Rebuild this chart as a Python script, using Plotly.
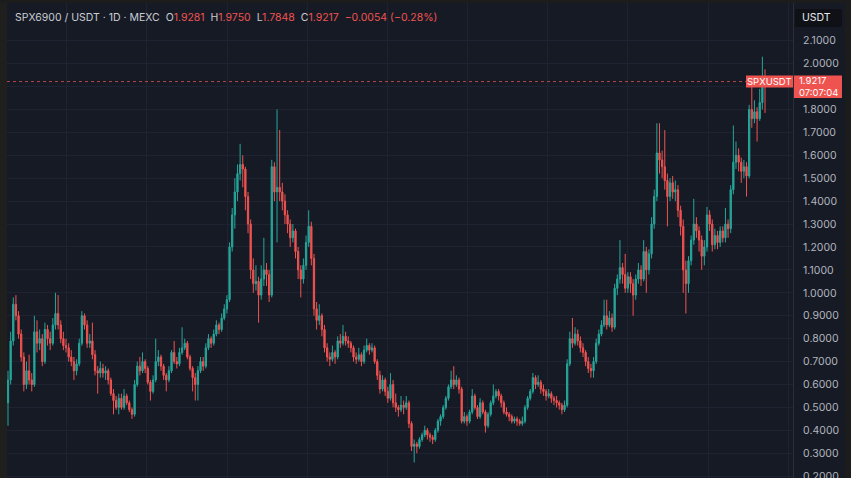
import plotly.graph_objects as go

# ---------------- data (daily candles) ----------------
opens = [
    0.52,0.62,0.79,0.95,0.90,0.82,0.72,0.60,0.66,0.62,
    0.60,0.83,0.78,0.80,0.70,0.84,0.80,0.78,0.86,0.91,
    0.86,0.80,0.77,0.76,0.72,0.70,0.66,0.69,0.78,0.90,
    0.86,0.78,0.79,0.73,0.66,0.65,0.67,0.65,0.66,0.62,
    0.56,0.53,0.50,0.54,0.50,0.55,0.52,0.49,0.47,0.60,
    0.68,0.66,0.70,0.67,0.61,0.57,0.62,0.70,0.72,0.68,
    0.64,0.62,0.66,0.74,0.70,0.69,0.74,0.76,0.78,0.72,
    0.67,0.63,0.60,0.66,0.70,0.68,0.76,0.80,0.78,0.82,
    0.86,0.84,0.89,0.93,0.97,1.20,1.34,1.44,1.52,1.56,
    1.54,1.42,1.30,1.10,1.04,1.05,0.99,1.06,1.10,1.08,
    0.99,1.55,1.44,1.46,1.44,1.40,1.34,1.30,1.24,1.27,
    1.18,1.10,1.06,1.12,1.22,1.29,1.15,0.93,0.88,0.90,
    0.84,0.76,0.72,0.71,0.74,0.72,0.79,0.78,0.81,0.79,
    0.78,0.76,0.72,0.71,0.73,0.70,0.75,0.77,0.75,0.76,
    0.70,0.64,0.58,0.62,0.57,0.54,0.60,0.52,0.50,0.49,
    0.51,0.50,0.52,0.43,0.33,0.34,0.33,0.36,0.38,0.40,
    0.38,0.37,0.36,0.40,0.44,0.46,0.50,0.54,0.59,0.62,
    0.60,0.62,0.58,0.44,0.46,0.44,0.48,0.55,0.50,0.46,
    0.52,0.48,0.42,0.47,0.52,0.55,0.57,0.55,0.52,0.48,
    0.47,0.46,0.44,0.45,0.44,0.43,0.44,0.50,0.54,0.57,
    0.63,0.60,0.61,0.58,0.57,0.55,0.56,0.54,0.53,0.52,
    0.51,0.49,0.51,0.69,0.80,0.78,0.82,0.79,0.76,0.74,
    0.70,0.67,0.66,0.70,0.78,0.82,0.86,0.90,0.86,0.89,
    0.85,1.02,1.06,1.11,1.08,1.02,1.07,1.04,0.99,1.06,
    1.10,1.06,1.18,1.10,1.17,1.30,1.42,1.61,1.58,1.55,
    1.49,1.42,1.48,1.44,1.45,1.36,1.29,1.10,1.04,1.14,
    1.23,1.30,1.27,1.23,1.16,1.20,1.34,1.30,1.21,1.25,
    1.22,1.27,1.24,1.30,1.28,1.45,1.57,1.60,1.57,1.53,
    1.55,1.51,1.80,1.76,1.79,1.76,1.83,1.9281,
]
highs = [
    0.66,0.83,0.98,0.99,0.92,0.84,0.74,0.70,0.73,0.65,
    0.90,0.88,0.84,0.82,0.87,0.86,0.83,0.89,1.00,0.99,
    0.88,0.83,0.80,0.78,0.75,0.72,0.71,0.80,0.92,0.91,
    0.88,0.82,0.87,0.75,0.68,0.70,0.69,0.68,0.67,0.63,
    0.58,0.55,0.56,0.56,0.58,0.56,0.53,0.50,0.62,0.70,
    0.72,0.74,0.71,0.68,0.62,0.64,0.80,0.75,0.73,0.69,
    0.65,0.68,0.75,0.79,0.72,0.76,0.85,0.80,0.79,0.73,
    0.68,0.65,0.68,0.72,0.72,0.78,0.82,0.81,0.84,0.88,
    0.87,0.91,0.95,0.99,1.22,1.37,1.50,1.56,1.65,1.60,
    1.55,1.44,1.32,1.15,1.12,1.07,1.12,1.24,1.13,1.10,
    1.58,1.57,1.80,1.71,1.48,1.43,1.36,1.32,1.30,1.28,
    1.20,1.12,1.15,1.25,1.36,1.31,1.17,0.96,0.95,0.91,
    0.86,0.78,0.74,0.77,0.75,0.81,0.82,0.86,0.83,0.81,
    0.79,0.77,0.74,0.76,0.74,0.77,0.80,0.78,0.78,0.77,
    0.71,0.66,0.64,0.63,0.59,0.65,0.62,0.56,0.51,0.55,
    0.53,0.55,0.53,0.44,0.36,0.35,0.37,0.39,0.42,0.41,
    0.39,0.38,0.41,0.45,0.47,0.51,0.55,0.60,0.66,0.68,
    0.64,0.63,0.59,0.48,0.47,0.49,0.58,0.56,0.51,0.54,
    0.53,0.49,0.48,0.53,0.60,0.58,0.58,0.56,0.53,0.50,
    0.48,0.47,0.46,0.46,0.45,0.46,0.51,0.55,0.58,0.65,
    0.64,0.64,0.62,0.60,0.58,0.58,0.57,0.55,0.55,0.53,
    0.52,0.53,0.71,0.83,0.89,0.85,0.84,0.81,0.78,0.75,
    0.72,0.69,0.72,0.80,0.84,0.88,0.97,0.97,0.92,0.91,
    1.04,1.08,1.23,1.13,1.17,1.09,1.09,1.06,1.08,1.13,
    1.12,1.23,1.20,1.19,1.33,1.45,1.74,1.74,1.62,1.71,
    1.52,1.50,1.51,1.49,1.47,1.38,1.32,1.14,1.16,1.25,
    1.41,1.33,1.29,1.25,1.23,1.375,1.36,1.32,1.28,1.27,
    1.29,1.29,1.37,1.32,1.47,1.73,1.66,1.63,1.59,1.58,
    1.57,1.82,1.915,1.84,1.81,1.89,2.03,1.9750,
]
lows = [
    0.42,0.60,0.77,0.88,0.80,0.70,0.57,0.58,0.60,0.57,
    0.59,0.74,0.75,0.68,0.69,0.77,0.75,0.77,0.84,0.84,
    0.78,0.75,0.74,0.70,0.68,0.62,0.64,0.68,0.77,0.84,
    0.76,0.76,0.71,0.64,0.56,0.63,0.63,0.62,0.60,0.55,
    0.47,0.49,0.47,0.49,0.49,0.51,0.48,0.45,0.46,0.59,
    0.64,0.65,0.65,0.60,0.53,0.56,0.61,0.68,0.66,0.62,
    0.57,0.61,0.65,0.69,0.67,0.68,0.73,0.75,0.71,0.66,
    0.57,0.53,0.53,0.65,0.66,0.67,0.75,0.76,0.77,0.81,
    0.82,0.83,0.88,0.91,0.96,1.18,1.28,1.40,1.49,1.46,
    1.36,1.26,1.06,1.00,1.01,0.87,0.97,1.03,1.03,0.96,
    0.98,1.40,1.22,1.40,1.36,1.30,1.26,1.20,1.22,1.15,
    1.06,0.98,1.04,1.10,1.20,1.12,0.90,0.84,0.86,0.81,
    0.74,0.70,0.68,0.70,0.69,0.71,0.76,0.77,0.77,0.76,
    0.74,0.70,0.69,0.70,0.68,0.69,0.74,0.73,0.74,0.69,
    0.62,0.56,0.57,0.55,0.52,0.53,0.50,0.48,0.46,0.48,
    0.47,0.49,0.41,0.31,0.26,0.30,0.32,0.35,0.37,0.36,
    0.35,0.34,0.35,0.39,0.42,0.45,0.49,0.53,0.58,0.58,
    0.59,0.56,0.43,0.43,0.42,0.43,0.47,0.49,0.45,0.45,
    0.47,0.39,0.41,0.46,0.51,0.54,0.53,0.50,0.47,0.46,
    0.44,0.43,0.43,0.42,0.42,0.42,0.43,0.49,0.53,0.56,
    0.58,0.59,0.56,0.55,0.53,0.54,0.52,0.51,0.50,0.49,
    0.47,0.48,0.50,0.68,0.76,0.77,0.77,0.74,0.72,0.68,
    0.65,0.63,0.63,0.69,0.77,0.81,0.85,0.84,0.85,0.83,
    0.84,0.99,1.04,1.04,1.00,1.00,1.00,0.90,0.97,1.04,
    1.03,1.05,1.00,1.08,1.15,1.28,1.40,1.52,1.50,1.45,
    1.29,1.40,1.41,1.40,1.33,1.25,1.00,0.91,1.00,1.12,
    1.21,1.24,1.18,1.10,1.12,1.18,1.27,1.18,1.19,1.19,
    1.20,1.22,1.22,1.24,1.26,1.43,1.54,1.53,1.48,1.50,
    1.42,1.50,1.72,1.74,1.66,1.75,1.80,1.7848,
]
closes = [
    0.62,0.79,0.95,0.90,0.82,0.72,0.60,0.66,0.62,0.60,
    0.83,0.78,0.80,0.70,0.84,0.80,0.78,0.86,0.91,0.86,
    0.80,0.77,0.76,0.72,0.70,0.66,0.69,0.78,0.90,0.86,
    0.78,0.79,0.73,0.66,0.65,0.67,0.65,0.66,0.62,0.56,
    0.53,0.50,0.54,0.50,0.55,0.52,0.49,0.47,0.60,0.68,
    0.66,0.70,0.67,0.61,0.57,0.62,0.70,0.72,0.68,0.64,
    0.62,0.66,0.74,0.70,0.69,0.74,0.76,0.78,0.72,0.67,
    0.63,0.60,0.66,0.70,0.68,0.76,0.80,0.78,0.82,0.86,
    0.84,0.89,0.93,0.97,1.20,1.34,1.44,1.52,1.56,1.54,
    1.42,1.30,1.10,1.04,1.05,0.99,1.06,1.10,1.08,0.99,
    1.55,1.44,1.46,1.44,1.40,1.34,1.30,1.24,1.27,1.18,
    1.10,1.06,1.12,1.22,1.29,1.15,0.93,0.88,0.90,0.84,
    0.76,0.72,0.71,0.74,0.72,0.79,0.78,0.81,0.79,0.78,
    0.76,0.72,0.71,0.73,0.70,0.75,0.77,0.75,0.76,0.70,
    0.64,0.58,0.62,0.57,0.54,0.60,0.52,0.50,0.49,0.51,
    0.50,0.52,0.43,0.33,0.34,0.33,0.36,0.38,0.40,0.38,
    0.37,0.36,0.40,0.44,0.46,0.50,0.54,0.59,0.62,0.60,
    0.62,0.58,0.44,0.46,0.44,0.48,0.55,0.50,0.46,0.52,
    0.48,0.42,0.47,0.52,0.55,0.57,0.55,0.52,0.48,0.47,
    0.46,0.44,0.45,0.44,0.43,0.44,0.50,0.54,0.57,0.63,
    0.60,0.61,0.58,0.57,0.55,0.56,0.54,0.53,0.52,0.51,
    0.49,0.51,0.69,0.80,0.78,0.82,0.79,0.76,0.74,0.70,
    0.67,0.66,0.70,0.78,0.82,0.86,0.90,0.86,0.89,0.85,
    1.02,1.06,1.11,1.08,1.02,1.07,1.04,0.99,1.06,1.10,
    1.06,1.18,1.10,1.17,1.30,1.42,1.61,1.58,1.55,1.49,
    1.42,1.48,1.44,1.45,1.36,1.29,1.10,1.04,1.14,1.23,
    1.30,1.27,1.23,1.16,1.20,1.34,1.30,1.21,1.25,1.22,
    1.27,1.24,1.30,1.28,1.45,1.57,1.60,1.57,1.53,1.55,
    1.51,1.80,1.76,1.79,1.76,1.83,1.9271,1.9217,
]
price_ticks = [round(0.2 + 0.1 * k, 1) for k in range(20)]
symbol_text = "SPX6900 / USDT · 1D · MEXC"
ticker_label = "SPXUSDT"
quote_label = "USDT"
countdown_label = "07:07:04"

assert len(opens) == len(highs) == len(lows) == len(closes)
N = len(closes)
bars = list(range(N))

# ---------------- style ----------------
BG = "#161a25"
GRID = "#1f2331"
UP = "#26a69a"
DOWN = "#ef5350"
TXT = "#b2b5be"
W, H = 851, 478
PL, PR, PT, PB = 7, 793, 3, 478          # plot area in pixels
FIRST_PX, LAST_PX = 8, 765                # centre of first / last candle
px_per_bar = (LAST_PX - FIRST_PX) / (N - 1)
x0 = (PL - FIRST_PX) / px_per_bar
x1 = (N - 1) + (PR - LAST_PX) / px_per_bar
PX_PER_UNIT = 229.2                       # pixels per 1.0 of price
Y_REF_PX, Y_REF_P = 40.7, 2.1
y_top = Y_REF_P + (Y_REF_PX - PT) / PX_PER_UNIT
y_bot = Y_REF_P - (PB - Y_REF_PX) / PX_PER_UNIT

def fx(px):   # pixel x -> paper
    return (px - PL) / (PR - PL)

def fy(py):   # pixel y -> paper
    return (PB - py) / (PB - PT)

fig = go.Figure(go.Candlestick(
    x=bars, open=opens, high=highs, low=lows, close=closes,
    increasing=dict(line=dict(color=UP, width=1), fillcolor=UP),
    decreasing=dict(line=dict(color=DOWN, width=1), fillcolor=DOWN),
    whiskerwidth=0, hoverinfo="skip",
))

last_c = closes[-1]
prev_c = closes[-2]
chg = last_c - prev_c
pct = chg / prev_c * 100

def fmt_signed(v, nd):
    s = f"{abs(v):.{nd}f}"
    return ("\u2212" if v < 0 else "+") + s

red = DOWN if chg < 0 else UP
LBL = "#c9ccd3"
header = (f"<span style='color:{LBL}'>{symbol_text}</span>  "
          f"<span style='color:{LBL}'>O</span><span style='color:{red}'>{opens[-1]:.4f}</span>  "
          f"<span style='color:{LBL}'>H</span><span style='color:{red}'>{highs[-1]:.4f}</span>  "
          f"<span style='color:{LBL}'>L</span><span style='color:{red}'>{lows[-1]:.4f}</span>  "
          f"<span style='color:{LBL}'>C</span><span style='color:{red}'>{last_c:.4f}</span>  "
          f"<span style='color:{red}'>{fmt_signed(chg, 4)} ({fmt_signed(pct, 2)}%)</span>")

# the price label box on the scale hides the tick label it covers
box_top = last_c + 6 / PX_PER_UNIT
box_bot = last_c - 16.5 / PX_PER_UNIT
pad = 7 / PX_PER_UNIT
tick_text = ["" if (box_bot - pad) < v < (box_top + pad) else f"{v:.4f}" for v in price_ticks]

shapes = [
    # frame strips
    dict(type="rect", xref="paper", yref="paper", x0=fx(0), x1=fx(PL), y0=fy(H), y1=fy(0),
         fillcolor="#1f1f1e", line_width=0, layer="above"),
    dict(type="rect", xref="paper", yref="paper", x0=fx(0), x1=fx(W), y0=fy(PT), y1=fy(0),
         fillcolor="#1c1c1c", line_width=0, layer="above"),
    dict(type="rect", xref="paper", yref="paper", x0=fx(845), x1=fx(W), y0=fy(H), y1=fy(0),
         fillcolor="#1c1c1c", line_width=0, layer="above"),
    # last price dotted line
    dict(type="line", xref="paper", yref="y", x0=0, x1=1, y0=last_c, y1=last_c,
         line=dict(color="#b9474a", width=1, dash="dot")),
    # ticker label box
    dict(type="rect", xref="paper", yref="y", x0=fx(746), x1=fx(PR),
         y0=last_c - 6 / PX_PER_UNIT, y1=last_c + 6 / PX_PER_UNIT,
         fillcolor=DOWN, line_width=0, layer="above"),
    # price label box
    dict(type="rect", xref="paper", yref="y", x0=fx(794), x1=fx(842),
         y0=box_bot, y1=box_top, fillcolor=DOWN, line_width=0, layer="above"),
    # quote currency box
    dict(type="rect", xref="paper", yref="paper", x0=fx(795), x1=fx(842), y0=fy(27), y1=fy(9),
         fillcolor="#0f1116", line_width=0, layer="above"),
]

annotations = [
    dict(xref="paper", yref="paper", x=fx(13), y=fy(17), xanchor="left", yanchor="middle",
         text=header, showarrow=False, font=dict(family="Inter", size=10.5, color=LBL)),
    dict(xref="paper", yref="paper", x=fx(800), y=fy(18), xanchor="left", yanchor="middle",
         text=quote_label, showarrow=False, font=dict(family="Inter", size=10.5, color="#e6e8ee")),
    dict(xref="paper", yref="y", x=fx(769.5), y=last_c, xanchor="center", yanchor="middle",
         text=ticker_label, showarrow=False, font=dict(family="Inter", size=9.5, color="#ffffff")),
    dict(xref="paper", yref="y", x=fx(797), y=last_c - 5.2 / PX_PER_UNIT, xanchor="left",
         yanchor="middle", align="left", text=f"{last_c:.4f}<br>{countdown_label}",
         showarrow=False, font=dict(family="Inter", size=9.5, color="#ffffff")),
]

fig.update_layout(
    width=W, height=H,
    margin=dict(l=PL, r=W - PR, t=PT, b=H - PB, pad=0, autoexpand=False),
    paper_bgcolor=BG, plot_bgcolor=BG,
    showlegend=False,
    shapes=shapes, annotations=annotations,
    xaxis=dict(range=[x0, x1], rangeslider=dict(visible=False), showticklabels=False,
               tickmode="linear", tick0=(66.7 - FIRST_PX) / px_per_bar, dtick=30.4,
               showgrid=True, gridcolor=GRID, gridwidth=1, zeroline=False, ticks="",
               showline=False, fixedrange=True, automargin=False),
    yaxis=dict(range=[y_bot, y_top], side="right", tickvals=price_ticks,
               ticktext=tick_text,
               showgrid=True, gridcolor=GRID, gridwidth=1, zeroline=False,
               showline=True, linecolor="#2a2e39", linewidth=1, ticks="",
               ticklabelstandoff=7, ticklabeloverflow="allow", automargin=False,
               tickfont=dict(family="Inter", size=10.5, color=TXT), fixedrange=True),
    font=dict(family="Inter"),
)

fig.write_html("out.html")
